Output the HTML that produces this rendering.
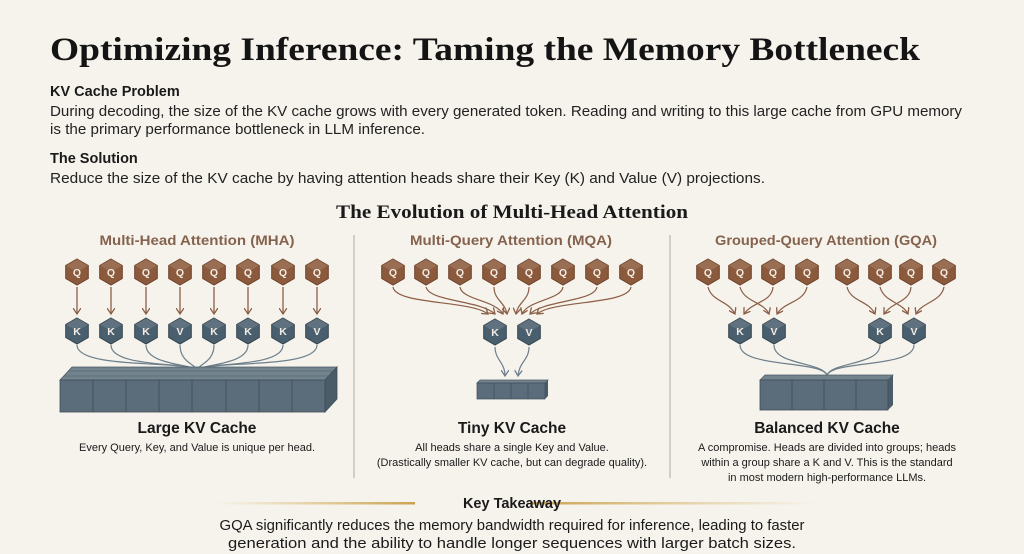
<!DOCTYPE html>
<html><head><meta charset="utf-8"><style>
html,body{margin:0;padding:0;background:#f6f3ec;}
svg{display:block}
.sans{font-family:"Liberation Sans",sans-serif}
.serif{font-family:"Liberation Serif",serif}
</style></head><body>
<svg width="1024" height="554" viewBox="0 0 1024 554" xmlns="http://www.w3.org/2000/svg">
<defs>
<polygon id="hx" points="0,-13 11.3,-6.5 11.3,6.5 0,13 -11.3,6.5 -11.3,-6.5"/>
<polygon id="hxt" points="0,-13 11.3,-6.5 0,0 -11.3,-6.5" fill="#ffffff" fill-opacity="0.12" stroke="none"/>
<marker id="ab" markerWidth="8" markerHeight="8" refX="6" refY="4" orient="auto" markerUnits="userSpaceOnUse"><path d="M0,0 L6,4 L0,8" fill="none" stroke="#8b5e45" stroke-width="1.3"/></marker>
<marker id="ag" markerWidth="8" markerHeight="8" refX="6" refY="4" orient="auto" markerUnits="userSpaceOnUse"><path d="M0,0 L6,4 L0,8" fill="none" stroke="#6d7f8b" stroke-width="1.3"/></marker>
<linearGradient id="gl" x1="0" x2="1"><stop offset="0" stop-color="#d6b56a" stop-opacity="0"/><stop offset="1" stop-color="#c9a24e"/></linearGradient>
<linearGradient id="gr" x1="0" x2="1"><stop offset="0" stop-color="#c9a24e"/><stop offset="1" stop-color="#d6b56a" stop-opacity="0"/></linearGradient>
</defs>
<rect width="1024" height="554" fill="#f6f3ec"/>

<text x="50" y="60" class="serif" font-weight="bold" font-size="33" fill="#141414" textLength="870" lengthAdjust="spacingAndGlyphs">Optimizing Inference: Taming the Memory Bottleneck</text>
<text x="50" y="96" class="sans" font-weight="bold" font-size="14.5" fill="#1a1a1a">KV Cache Problem</text>
<text x="50" y="116" class="sans" font-size="14.5" fill="#222" textLength="912" lengthAdjust="spacingAndGlyphs">During decoding, the size of the KV cache grows with every generated token. Reading and writing to this large cache from GPU memory</text>
<text x="50" y="134" class="sans" font-size="14.5" fill="#222" textLength="375" lengthAdjust="spacingAndGlyphs">is the primary performance bottleneck in LLM inference.</text>
<text x="50" y="163" class="sans" font-weight="bold" font-size="14.5" fill="#1a1a1a">The Solution</text>
<text x="50" y="183" class="sans" font-size="14.5" fill="#222" textLength="715" lengthAdjust="spacingAndGlyphs">Reduce the size of the KV cache by having attention heads share their Key (K) and Value (V) projections.</text>

<text x="512" y="218" text-anchor="middle" class="serif" font-weight="bold" font-size="19" fill="#1a1a1a" textLength="352" lengthAdjust="spacingAndGlyphs">The Evolution of Multi-Head Attention</text>

<line x1="354" y1="235" x2="354" y2="478" stroke="#bdb6ac" stroke-width="1.2"/>
<line x1="670" y1="235" x2="670" y2="478" stroke="#bdb6ac" stroke-width="1.2"/>

<g class="sans" font-size="14" font-weight="bold" fill="#85624d" text-anchor="middle">
<text x="197" y="245" textLength="195" lengthAdjust="spacingAndGlyphs">Multi-Head Attention (MHA)</text>
<text x="511" y="245" textLength="202" lengthAdjust="spacingAndGlyphs">Multi-Query Attention (MQA)</text>
<text x="826" y="245" textLength="222" lengthAdjust="spacingAndGlyphs">Grouped-Query Attention (GQA)</text>
</g>

<!-- MHA arrows -->
<g stroke="#8b5e45" stroke-width="1.3" fill="none" marker-end="url(#ab)">
<line x1="77" y1="287" x2="77" y2="314"/><line x1="111" y1="287" x2="111" y2="314"/><line x1="146" y1="287" x2="146" y2="314"/><line x1="180" y1="287" x2="180" y2="314"/><line x1="214" y1="287" x2="214" y2="314"/><line x1="248" y1="287" x2="248" y2="314"/><line x1="283" y1="287" x2="283" y2="314"/><line x1="317" y1="287" x2="317" y2="314"/>
</g>
<g stroke="#6d7f8b" stroke-width="1.2" fill="none">
<path d="M77,345 C77,370 190,360 197,370"/><path d="M111,345 C111,368 190,362 197,370"/><path d="M146,345 C146,365 192,364 197,370"/><path d="M180,345 C180,362 195,364 197,370"/><path d="M214,345 C214,362 199,364 197,370"/><path d="M248,345 C248,365 202,364 197,370"/><path d="M283,345 C283,368 204,362 197,370"/><path d="M317,345 C317,370 204,360 197,370"/>
</g>
<!-- MHA cache -->
<polygon points="60,380 72,367 337,367 325,380" fill="#73848f" stroke="#4a5a66" stroke-width="0.8"/>
<line x1="64" y1="376" x2="329" y2="376" stroke="#4a5a66" stroke-width="0.6"/>
<line x1="68" y1="371" x2="333" y2="371" stroke="#4a5a66" stroke-width="0.6"/>
<polygon points="325,380 337,367 337,399 325,412" fill="#4b5c69" stroke="#3e4d59" stroke-width="0.8"/>
<rect x="60" y="380" width="265" height="32" fill="#5b6d7a" stroke="#3e4d59" stroke-width="0.8"/>
<g stroke="#3e4d59" stroke-width="0.8"><line x1="93" y1="380" x2="93" y2="412"/><line x1="126" y1="380" x2="126" y2="412"/><line x1="159" y1="380" x2="159" y2="412"/><line x1="192" y1="380" x2="192" y2="412"/><line x1="226" y1="380" x2="226" y2="412"/><line x1="259" y1="380" x2="259" y2="412"/><line x1="292" y1="380" x2="292" y2="412"/></g>

<!-- MQA arrows -->
<g stroke="#8b5e45" stroke-width="1.2" fill="none" marker-end="url(#ab)">
<path d="M393,287 C396,305 470,300 488,314"/>
<path d="M426,287 C430,302 480,300 495,314"/>
<path d="M460,287 C462,300 495,300 503,314"/>
<path d="M494,287 C494,300 505,302 507,314"/>
<path d="M529,287 C529,300 518,302 516,314"/>
<path d="M563,287 C561,300 528,300 522,314"/>
<path d="M597,287 C594,302 544,300 530,314"/>
<path d="M631,287 C628,305 554,300 537,314"/>
</g>
<g stroke="#6d7f8b" stroke-width="1.2" fill="none" marker-end="url(#ag)">
<path d="M495,347 C495,360 505,362 505,376"/>
<path d="M529,347 C529,360 519,362 518,376"/>
</g>
<polygon points="477,383 480,380 548,380 545,383" fill="#73848f" stroke="#4a5a66" stroke-width="0.7"/>
<polygon points="545,383 548,380 548,396 545,399" fill="#4b5c69"/>
<rect x="477" y="383" width="68" height="16" fill="#5b6d7a" stroke="#3e4d59" stroke-width="0.7"/>
<g stroke="#3e4d59" stroke-width="0.7"><line x1="494" y1="383" x2="494" y2="399"/><line x1="511" y1="383" x2="511" y2="399"/><line x1="528" y1="383" x2="528" y2="399"/></g>

<!-- GQA arrows -->
<g stroke="#8b5e45" stroke-width="1.2" fill="none" marker-end="url(#ab)">
<path d="M708,287 C712,302 728,300 735,314"/>
<path d="M773,287 C772,302 752,302 744,314"/>
<path d="M740,287 C744,302 764,302 769,314"/>
<path d="M807,287 C804,302 784,302 777,314"/>
<path d="M847,287 C851,302 868,300 875,314"/>
<path d="M911,287 C910,302 892,302 884,314"/>
<path d="M880,287 C884,302 902,302 908,314"/>
<path d="M944,287 C941,302 922,302 916,314"/>
</g>
<g stroke="#6d7f8b" stroke-width="1.2" fill="none">
<path d="M740,345 C740,368 820,360 827,375"/><path d="M774,345 C774,365 822,362 827,375"/>
<path d="M880,345 C880,365 832,362 827,375"/><path d="M914,345 C914,368 834,360 827,375"/>
</g>
<polygon points="760,380 765,375 893,375 888,380" fill="#73848f" stroke="#4a5a66" stroke-width="0.7"/>
<polygon points="888,380 893,375 893,405 888,410" fill="#4b5c69"/>
<rect x="760" y="380" width="128" height="30" fill="#5b6d7a" stroke="#3e4d59" stroke-width="0.8"/>
<g stroke="#3e4d59" stroke-width="0.8"><line x1="792" y1="380" x2="792" y2="410"/><line x1="824" y1="380" x2="824" y2="410"/><line x1="856" y1="380" x2="856" y2="410"/></g>

<!-- Q hexes -->
<g fill="#8b5a3c" stroke="#6e4229" stroke-width="1">
<use href="#hx" x="77" y="272"/><use href="#hx" x="111" y="272"/><use href="#hx" x="146" y="272"/><use href="#hx" x="180" y="272"/><use href="#hx" x="214" y="272"/><use href="#hx" x="248" y="272"/><use href="#hx" x="283" y="272"/><use href="#hx" x="317" y="272"/>
<use href="#hx" x="393" y="272"/><use href="#hx" x="426" y="272"/><use href="#hx" x="460" y="272"/><use href="#hx" x="494" y="272"/><use href="#hx" x="529" y="272"/><use href="#hx" x="563" y="272"/><use href="#hx" x="597" y="272"/><use href="#hx" x="631" y="272"/>
<use href="#hx" x="708" y="272"/><use href="#hx" x="740" y="272"/><use href="#hx" x="773" y="272"/><use href="#hx" x="807" y="272"/><use href="#hx" x="847" y="272"/><use href="#hx" x="880" y="272"/><use href="#hx" x="911" y="272"/><use href="#hx" x="944" y="272"/>
</g>
<g fill="#4a5f6e" stroke="#34444f" stroke-width="1">
<use href="#hx" x="77" y="331"/><use href="#hx" x="111" y="331"/><use href="#hx" x="146" y="331"/><use href="#hx" x="180" y="331"/><use href="#hx" x="214" y="331"/><use href="#hx" x="248" y="331"/><use href="#hx" x="283" y="331"/><use href="#hx" x="317" y="331"/>
<use href="#hx" x="495" y="332"/><use href="#hx" x="529" y="332"/>
<use href="#hx" x="740" y="331"/><use href="#hx" x="774" y="331"/><use href="#hx" x="880" y="331"/><use href="#hx" x="914" y="331"/>
</g>
<g>
<use href="#hxt" x="77" y="272"/><use href="#hxt" x="111" y="272"/><use href="#hxt" x="146" y="272"/><use href="#hxt" x="180" y="272"/><use href="#hxt" x="214" y="272"/><use href="#hxt" x="248" y="272"/><use href="#hxt" x="283" y="272"/><use href="#hxt" x="317" y="272"/>
<use href="#hxt" x="393" y="272"/><use href="#hxt" x="426" y="272"/><use href="#hxt" x="460" y="272"/><use href="#hxt" x="494" y="272"/><use href="#hxt" x="529" y="272"/><use href="#hxt" x="563" y="272"/><use href="#hxt" x="597" y="272"/><use href="#hxt" x="631" y="272"/>
<use href="#hxt" x="708" y="272"/><use href="#hxt" x="740" y="272"/><use href="#hxt" x="773" y="272"/><use href="#hxt" x="807" y="272"/><use href="#hxt" x="847" y="272"/><use href="#hxt" x="880" y="272"/><use href="#hxt" x="911" y="272"/><use href="#hxt" x="944" y="272"/>
<use href="#hxt" x="77" y="331"/><use href="#hxt" x="111" y="331"/><use href="#hxt" x="146" y="331"/><use href="#hxt" x="180" y="331"/><use href="#hxt" x="214" y="331"/><use href="#hxt" x="248" y="331"/><use href="#hxt" x="283" y="331"/><use href="#hxt" x="317" y="331"/>
<use href="#hxt" x="495" y="332"/><use href="#hxt" x="529" y="332"/>
<use href="#hxt" x="740" y="331"/><use href="#hxt" x="774" y="331"/><use href="#hxt" x="880" y="331"/><use href="#hxt" x="914" y="331"/>
</g>
<g class="sans" font-size="10.5" font-weight="bold" fill="#f3ece4" text-anchor="middle">
<text x="77" y="276">Q</text><text x="111" y="276">Q</text><text x="146" y="276">Q</text><text x="180" y="276">Q</text><text x="214" y="276">Q</text><text x="248" y="276">Q</text><text x="283" y="276">Q</text><text x="317" y="276">Q</text>
<text x="393" y="276">Q</text><text x="426" y="276">Q</text><text x="460" y="276">Q</text><text x="494" y="276">Q</text><text x="529" y="276">Q</text><text x="563" y="276">Q</text><text x="597" y="276">Q</text><text x="631" y="276">Q</text>
<text x="708" y="276">Q</text><text x="740" y="276">Q</text><text x="773" y="276">Q</text><text x="807" y="276">Q</text><text x="847" y="276">Q</text><text x="880" y="276">Q</text><text x="911" y="276">Q</text><text x="944" y="276">Q</text>
<text x="77" y="335">K</text><text x="111" y="335">K</text><text x="146" y="335">K</text><text x="180" y="335">V</text><text x="214" y="335">K</text><text x="248" y="335">K</text><text x="283" y="335">K</text><text x="317" y="335">V</text>
<text x="495" y="336">K</text><text x="529" y="336">V</text>
<text x="740" y="335">K</text><text x="774" y="335">V</text><text x="880" y="335">K</text><text x="914" y="335">V</text>
</g>

<g class="sans" text-anchor="middle" fill="#1a1a1a">
<text x="197" y="433" font-size="15.5" font-weight="bold">Large KV Cache</text>
<text x="197" y="451" font-size="11">Every Query, Key, and Value is unique per head.</text>
<text x="512" y="433" font-size="15.5" font-weight="bold">Tiny KV Cache</text>
<text x="512" y="451" font-size="11">All heads share a single Key and Value.</text>
<text x="512" y="466" font-size="11">(Drastically smaller KV cache, but can degrade quality).</text>
<text x="827" y="433" font-size="15.5" font-weight="bold">Balanced KV Cache</text>
<text x="827" y="451" font-size="11">A compromise. Heads are divided into groups; heads</text>
<text x="827" y="466" font-size="11">within a group share a K and V. This is the standard</text>
<text x="827" y="481" font-size="11">in most modern high-performance LLMs.</text>
</g>

<rect x="215" y="502" width="200" height="2.5" fill="url(#gl)"/>
<rect x="530" y="502" width="290" height="2.5" fill="url(#gr)"/>
<g class="sans" text-anchor="middle" fill="#1a1a1a">
<text x="512" y="508" font-size="14.5" font-weight="bold">Key Takeaway</text>
<text x="512" y="530" font-size="15" textLength="585" lengthAdjust="spacingAndGlyphs">GQA significantly reduces the memory bandwidth required for inference, leading to faster</text>
<text x="512" y="548" font-size="15" textLength="568" lengthAdjust="spacingAndGlyphs">generation and the ability to handle longer sequences with larger batch sizes.</text>
</g>
</svg>
</body></html>
